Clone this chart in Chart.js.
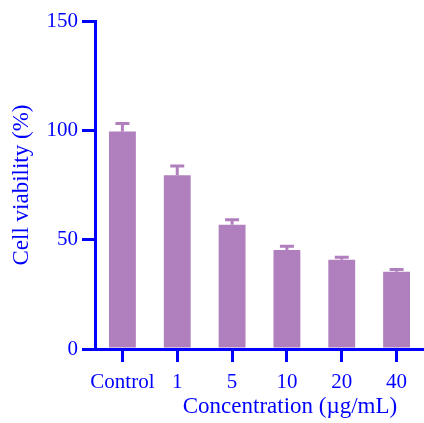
<!DOCTYPE html>
<html lang="en">
<head>
  <meta charset="UTF-8">
  <title>Cell viability</title>
  <style>
    body { margin: 0; background: #fff; }
    canvas { display: block; }
  </style>
</head>
<body>
<canvas id="chart" width="424" height="423"></canvas>

<script src="https://cdn.jsdelivr.net/npm/chart.js"></script>
<script>
// datos
const categories = ['Control', '1', '5', '10', '20', '40'];
const viability = [99.5, 79.5, 56.8, 45.3, 40.8, 35.3];
const sdUpper = [3.6, 4.2, 2.3, 1.7, 1.2, 1.0];
const yTicks = [0, 50, 100, 150];

const blue = '#0000ff';
const purple = '#b07fbd';
const serif = '"Liberation Serif", "Times New Roman", serif';

// barras de error (solo hacia arriba)
const errorBars = {
  id: 'errorBars',
  afterDatasetsDraw(chart) {
    const ctx = chart.ctx;
    const y = chart.scales.y;
    const meta = chart.getDatasetMeta(0);
    ctx.save();
    ctx.strokeStyle = purple;
    ctx.lineWidth = 3;
    meta.data.forEach((bar, i) => {
      const top = y.getPixelForValue(viability[i] + sdUpper[i]);
      const base = y.getPixelForValue(viability[i]);
      ctx.beginPath();
      ctx.moveTo(bar.x, base);
      ctx.lineTo(bar.x, top);
      ctx.moveTo(bar.x - 7, top);
      ctx.lineTo(bar.x + 7, top);
      ctx.stroke();
    });
    ctx.restore();
  }
};

// titulo del eje x, desplazado a la derecha como en el original
const xTitle = {
  id: 'xTitle',
  afterDraw(chart) {
    const ctx = chart.ctx;
    ctx.save();
    ctx.fillStyle = blue;
    ctx.font = '23px ' + serif;
    ctx.textAlign = 'center';
    ctx.textBaseline = 'middle';
    ctx.fillText('Concentration (\u00b5g/mL)', 290, 407);
    ctx.restore();
  }
};

new Chart(document.getElementById('chart'), {
  type: 'bar',
  data: {
    labels: categories,
    datasets: [{
      data: viability,
      backgroundColor: purple,
      borderWidth: 0,
      barPercentage: 1,
      categoryPercentage: 0.49
    }]
  },
  options: {
    responsive: false,
    animation: false,
    layout: { padding: { top: 21, right: 0, left: 0, bottom: 0 } },
    plugins: { legend: { display: false }, tooltip: { enabled: false } },
    scales: {
      x: {
        grid: { offset: false, drawOnChartArea: false, color: blue, lineWidth: 3, tickLength: 13 },
        border: { color: blue, width: 3 },
        ticks: { color: blue, padding: 8, autoSkip: false, font: { family: serif, size: 21 }, maxRotation: 0 },
        afterFit(scale) { scale.height = 74; }
      },
      y: {
        min: 0,
        max: 150,
        afterBuildTicks(scale) { scale.ticks = yTicks.map(v => ({ value: v })); },
        grid: { drawOnChartArea: false, color: blue, lineWidth: 3, tickLength: 13 },
        border: { color: blue, width: 3 },
        ticks: { color: blue, padding: 4, font: { family: serif, size: 21 } },
        title: {
          display: true,
          text: 'Cell viability (%)',
          color: blue,
          font: { family: serif, size: 23 },
          padding: { top: 8, bottom: 0 }
        },
        afterFit(scale) { scale.width = 95; }
      }
    }
  },
  plugins: [errorBars, xTitle]
});
</script>
</body>
</html>
